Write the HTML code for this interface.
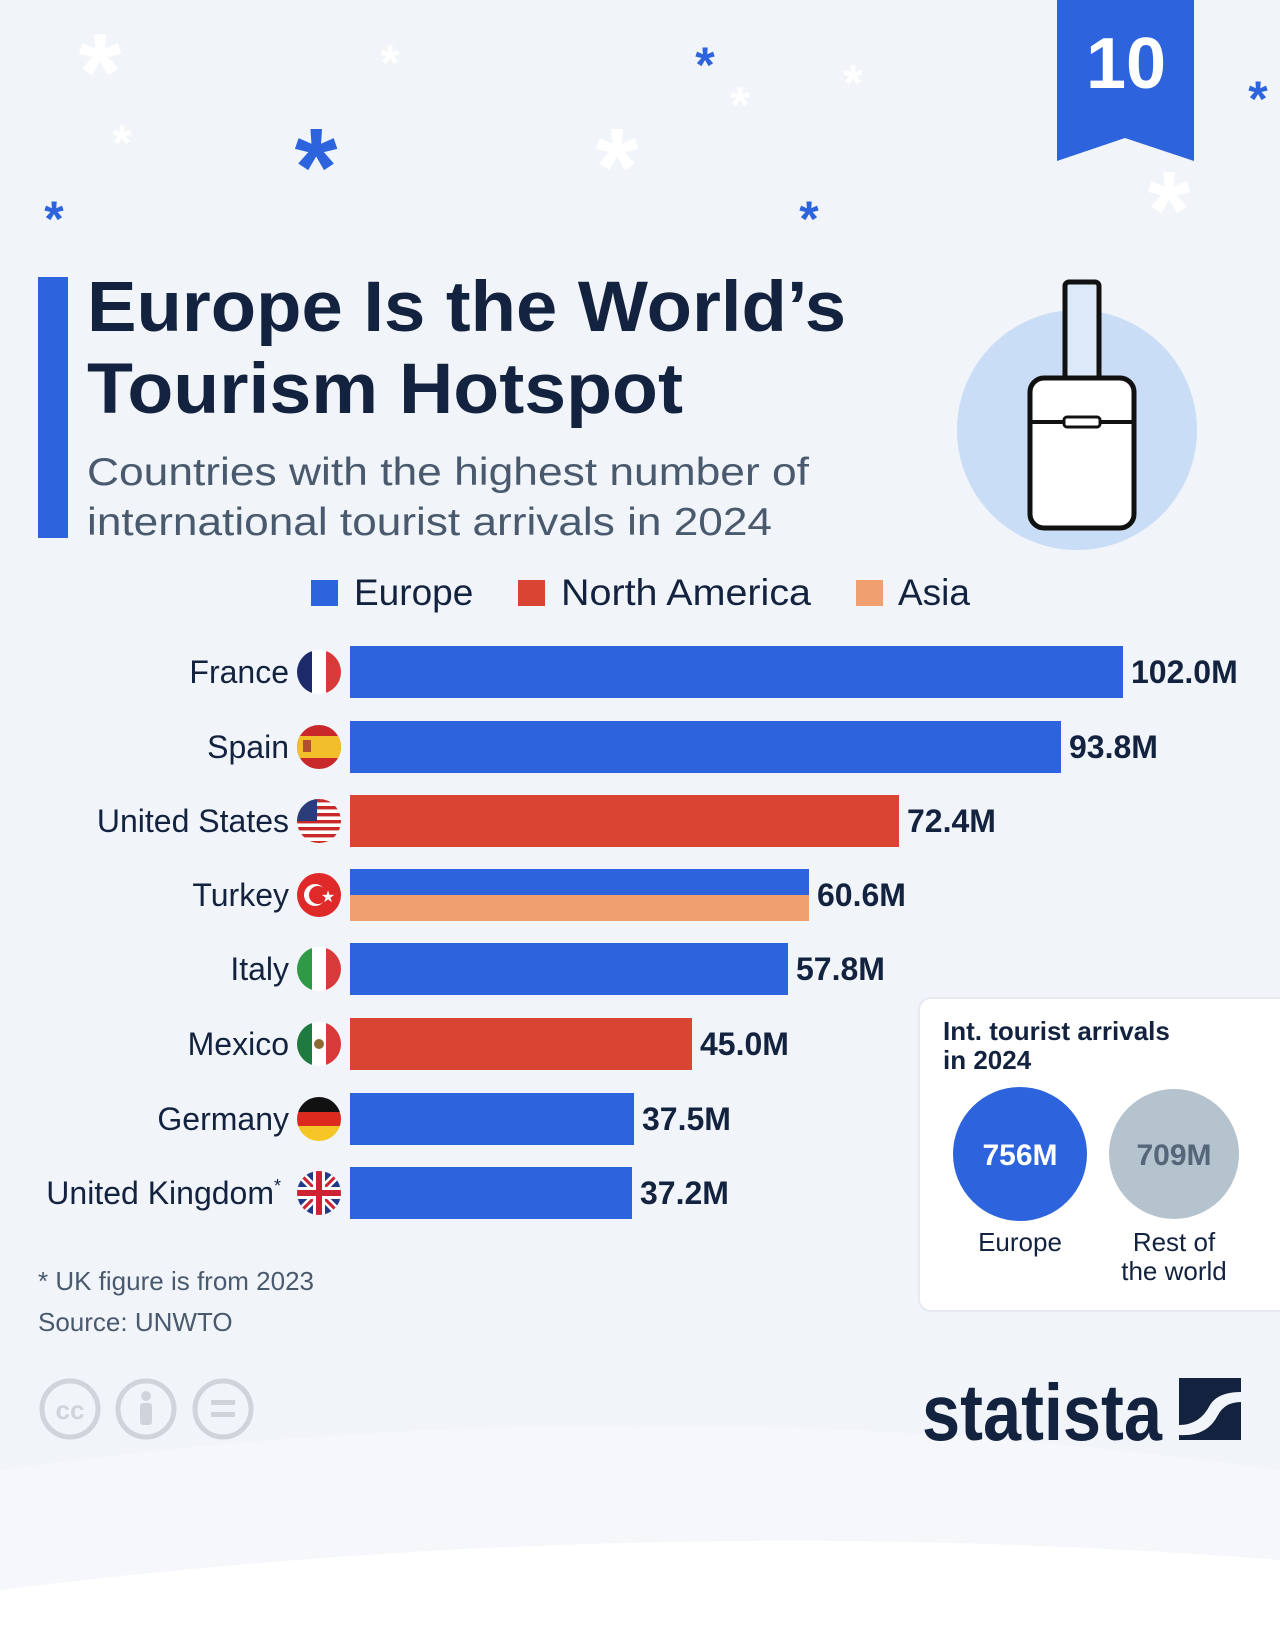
<!DOCTYPE html>
<html><head><meta charset="utf-8"><style>
body{margin:0;width:1280px;height:1631px;overflow:hidden;background:#f1f4f9;font-family:"Liberation Sans","DejaVu Sans",sans-serif;}
</style></head><body>
<svg width="1280" height="1631" viewBox="0 0 1280 1631" xmlns="http://www.w3.org/2000/svg" style="position:absolute;left:0;top:0">
<defs>
<clipPath id="c1"><circle cx="319" cy="672" r="22"/></clipPath>
<clipPath id="c2"><circle cx="319" cy="747" r="22"/></clipPath>
<clipPath id="c3"><circle cx="319" cy="821" r="22"/></clipPath>
<clipPath id="c5"><circle cx="319" cy="969" r="22"/></clipPath>
<clipPath id="c6"><circle cx="319" cy="1044" r="22"/></clipPath>
<clipPath id="c7"><circle cx="319" cy="1119" r="22"/></clipPath>
<clipPath id="c8"><circle cx="319" cy="1193" r="22"/></clipPath>
</defs>
<path d="M0 1470 Q640 1380 1280 1470 L1280 1631 L0 1631Z" fill="#f5f7fa"/>
<path d="M0 1590 Q640 1510 1280 1560 L1280 1631 L0 1631Z" fill="#fff"/>
<!-- asterisks -->
<g font-family="Liberation Sans,sans-serif" font-weight="bold" text-anchor="middle">
<text x="100" y="110" font-size="110" fill="#fff">*</text>
<text x="390" y="80" font-size="50" fill="#fff">*</text>
<text x="122" y="160" font-size="50" fill="#fff">*</text>
<text x="316" y="205" font-size="110" fill="#2d64dd">*</text>
<text x="54" y="236" font-size="50" fill="#2d64dd">*</text>
<text x="705" y="82" font-size="50" fill="#2d64dd">*</text>
<text x="740" y="122" font-size="50" fill="#fff">*</text>
<text x="853" y="100" font-size="50" fill="#fff">*</text>
<text x="617" y="205" font-size="110" fill="#fff">*</text>
<text x="809" y="236" font-size="50" fill="#2d64dd">*</text>
<text x="1258" y="116" font-size="50" fill="#2d64dd">*</text>
<text x="1169" y="248" font-size="110" fill="#fff">*</text>
</g>
<!-- ribbon -->
<path d="M1057 0 H1194 V161 L1125 138 L1057 161Z" fill="#2d64dd"/>
<text x="1126" y="88" font-size="72" font-weight="bold" fill="#fff" text-anchor="middle">10</text>
<!-- suitcase -->
<circle cx="1077" cy="430" r="120" fill="#c9ddf6"/>
<rect x="1065" y="282" width="34" height="100" rx="4" fill="#dce9f8" stroke="#111" stroke-width="5"/>
<rect x="1030" y="378" width="104" height="150" rx="14" fill="#fff" stroke="#111" stroke-width="5"/>
<line x1="1030" y1="422" x2="1134" y2="422" stroke="#111" stroke-width="4"/>
<rect x="1064" y="417" width="36" height="10" rx="3" fill="#fff" stroke="#111" stroke-width="3"/>
<!-- title -->
<rect x="38" y="277" width="30" height="261" fill="#2d64dd"/>
<text x="87" y="331" font-size="71" font-weight="bold" fill="#13233f" textLength="759" lengthAdjust="spacingAndGlyphs">Europe Is the World’s</text>
<text x="87" y="413" font-size="71" font-weight="bold" fill="#13233f" textLength="596" lengthAdjust="spacingAndGlyphs">Tourism Hotspot</text>
<text x="87" y="485" font-size="39" fill="#4a5a6e" textLength="722" lengthAdjust="spacingAndGlyphs">Countries with the highest number of</text>
<text x="87" y="535" font-size="39" fill="#4a5a6e" textLength="685" lengthAdjust="spacingAndGlyphs">international tourist arrivals in 2024</text>
<!-- legend -->
<rect x="311" y="580" width="27" height="26" fill="#2d64dd"/>
<text x="354" y="605" font-size="37" fill="#13233f">Europe</text>
<rect x="518" y="580" width="27" height="26" fill="#d94433"/>
<text x="561" y="605" font-size="37" fill="#13233f" textLength="250" lengthAdjust="spacingAndGlyphs">North America</text>
<rect x="856" y="580" width="27" height="26" fill="#f0a070"/>
<text x="898" y="605" font-size="37" fill="#13233f">Asia</text>
<!-- bars -->
<g font-size="32" fill="#13233f">
<text x="289" y="683" text-anchor="end">France</text>
<text x="289" y="758" text-anchor="end">Spain</text>
<text x="289" y="832" text-anchor="end">United States</text>
<text x="289" y="906" text-anchor="end">Turkey</text>
<text x="289" y="980" text-anchor="end">Italy</text>
<text x="289" y="1055" text-anchor="end">Mexico</text>
<text x="289" y="1130" text-anchor="end">Germany</text>
<text x="281" y="1204" text-anchor="end">United Kingdom<tspan font-size="18" dy="-12">*</tspan></text>
</g>
<rect x="350" y="646" width="773" height="52" fill="#2d64dd"/>
<rect x="350" y="721" width="711" height="52" fill="#2d64dd"/>
<rect x="350" y="795" width="549" height="52" fill="#d94433"/>
<rect x="350" y="869" width="459" height="26" fill="#2d64dd"/>
<rect x="350" y="895" width="459" height="26" fill="#f0a070"/>
<rect x="350" y="943" width="438" height="52" fill="#2d64dd"/>
<rect x="350" y="1018" width="342" height="52" fill="#d94433"/>
<rect x="350" y="1093" width="284" height="52" fill="#2d64dd"/>
<rect x="350" y="1167" width="282" height="52" fill="#2d64dd"/>
<g font-size="32" font-weight="bold" fill="#13233f">
<text x="1131" y="683">102.0M</text>
<text x="1069" y="758">93.8M</text>
<text x="907" y="832">72.4M</text>
<text x="817" y="906">60.6M</text>
<text x="796" y="980">57.8M</text>
<text x="700" y="1055">45.0M</text>
<text x="642" y="1130">37.5M</text>
<text x="640" y="1204">37.2M</text>
</g>
<!-- flags -->
<g clip-path="url(#c1)"><rect x="297" y="650" width="15" height="44" fill="#1d2a6b"/><rect x="312" y="650" width="14" height="44" fill="#fff"/><rect x="326" y="650" width="15" height="44" fill="#d83a3a"/></g>
<g clip-path="url(#c2)"><rect x="297" y="725" width="44" height="44" fill="#c8282a"/><rect x="297" y="736" width="44" height="22" fill="#f2bf2a"/><rect x="303" y="740" width="8" height="12" fill="#b05030"/></g>
<g clip-path="url(#c3)"><rect x="297" y="799" width="44" height="44" fill="#fff"/><g fill="#c8282a"><rect x="297" y="799" width="44" height="3.4"/><rect x="297" y="806" width="44" height="3.4"/><rect x="297" y="813" width="44" height="3.4"/><rect x="297" y="820" width="44" height="3.4"/><rect x="297" y="827" width="44" height="3.4"/><rect x="297" y="834" width="44" height="3.4"/><rect x="297" y="841" width="44" height="3.4"/></g><rect x="297" y="799" width="20" height="22" fill="#2a3d7a"/></g>
<circle cx="319" cy="895" r="22" fill="#e02a2a"/><circle cx="315" cy="895" r="11" fill="#fff"/><circle cx="318" cy="895" r="9" fill="#e02a2a"/><text x="328" y="902" font-size="16" fill="#fff" text-anchor="middle">★</text>
<g clip-path="url(#c5)"><rect x="297" y="947" width="15" height="44" fill="#2f9a46"/><rect x="312" y="947" width="14" height="44" fill="#fff"/><rect x="326" y="947" width="15" height="44" fill="#d83a3a"/></g>
<g clip-path="url(#c6)"><rect x="297" y="1022" width="15" height="44" fill="#1f7a3f"/><rect x="312" y="1022" width="14" height="44" fill="#fff"/><rect x="326" y="1022" width="15" height="44" fill="#d83a3a"/><circle cx="319" cy="1044" r="5" fill="#8a6a30"/></g>
<g clip-path="url(#c7)"><rect x="297" y="1097" width="44" height="15" fill="#111"/><rect x="297" y="1112" width="44" height="14" fill="#dd2a1f"/><rect x="297" y="1126" width="44" height="15" fill="#f6c627"/></g>
<g clip-path="url(#c8)"><rect x="297" y="1171" width="44" height="44" fill="#1f3a8a"/><path d="M297 1171 L341 1215 M341 1171 L297 1215" stroke="#fff" stroke-width="8"/><path d="M297 1171 L341 1215 M341 1171 L297 1215" stroke="#cc2233" stroke-width="3"/><rect x="297" y="1187" width="44" height="12" fill="#fff"/><rect x="313" y="1171" width="12" height="44" fill="#fff"/><rect x="297" y="1190" width="44" height="6" fill="#cc2233"/><rect x="316" y="1171" width="6" height="44" fill="#cc2233"/></g>
<!-- info box -->
<rect x="919" y="998" width="380" height="313" rx="12" fill="#fff" stroke="#e6eaf0" stroke-width="2"/>
<text x="943" y="1040" font-size="26" font-weight="bold" fill="#13233f">Int. tourist arrivals</text>
<text x="943" y="1069" font-size="26" font-weight="bold" fill="#13233f">in 2024</text>
<circle cx="1020" cy="1154" r="67" fill="#2d64dd"/>
<text x="1020" y="1165" font-size="30" font-weight="bold" fill="#fff" text-anchor="middle">756M</text>
<circle cx="1174" cy="1154" r="65" fill="#b4c3cd"/>
<text x="1174" y="1165" font-size="30" font-weight="bold" fill="#56667a" text-anchor="middle">709M</text>
<text x="1020" y="1251" font-size="26" fill="#13233f" text-anchor="middle">Europe</text>
<text x="1174" y="1251" font-size="26" fill="#13233f" text-anchor="middle">Rest of</text>
<text x="1174" y="1280" font-size="26" fill="#13233f" text-anchor="middle">the world</text>
<!-- footer -->
<text x="38" y="1290" font-size="26" fill="#4a5a6e">* UK figure is from 2023</text>
<text x="38" y="1331" font-size="26" fill="#4a5a6e">Source: UNWTO</text>
<g fill="none" stroke="#cfd4db" stroke-width="5">
<circle cx="70" cy="1409" r="28"/><circle cx="146" cy="1409" r="28"/><circle cx="223" cy="1409" r="28"/>
</g>
<text x="70" y="1419" font-size="26" font-weight="bold" fill="#cfd4db" text-anchor="middle">cc</text>
<circle cx="146" cy="1396" r="5" fill="#cfd4db"/><rect x="140" y="1403" width="12" height="22" rx="3" fill="#cfd4db"/>
<rect x="211" y="1400" width="24" height="5" fill="#cfd4db"/><rect x="211" y="1412" width="24" height="5" fill="#cfd4db"/>
<text x="922" y="1440" font-size="80" font-weight="bold" fill="#13233f" textLength="240" lengthAdjust="spacingAndGlyphs">statista</text>
<rect x="1179" y="1378" width="62" height="62" fill="#13233f"/>
<path d="M1179 1425 Q1200 1425 1210 1405 Q1218 1392 1241 1392 L1241 1402 Q1225 1402 1218 1415 Q1207 1437 1179 1435Z" fill="#f1f4f9"/>
</svg>
</body></html>
